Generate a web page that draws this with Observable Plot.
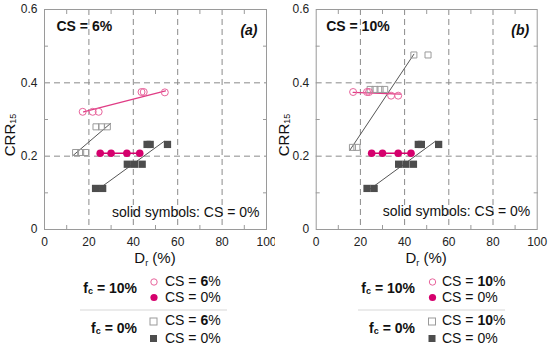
<!DOCTYPE html>
<html><head><meta charset="utf-8">
<script src="https://cdn.jsdelivr.net/npm/d3@7"></script>
<script src="https://cdn.jsdelivr.net/npm/@observablehq/plot@0.6"></script>
<style>
body{margin:0;background:#fff;font-family:"Liberation Sans",Arial,sans-serif;}
#wrap{position:relative;width:550px;height:348px;overflow:hidden;}
#wrap svg{position:absolute;top:0;}
</style></head><body>
<div id="wrap"></div>
<script>
// ---- axis ticks ----
const xTicks = [0, 20, 40, 60, 80, 100];
const yTicks = [0, 0.2, 0.4, 0.6];
const xGrid = [20, 40, 60, 80];
const yGrid = [0.2, 0.4];
const xMinor = [10, 30, 50, 70, 90];
const yMinor = [0.1, 0.3, 0.5];

// ---- panel (a): CS = 6% ----
const openCircA_x = [17.2, 21.7, 24.4, 43.7, 44.7, 54.2];
const openCircA_y = [0.321, 0.321, 0.321, 0.375, 0.375, 0.374];
const trendCircA_x = [17.6, 54.5];
const trendCircA_y = [0.321, 0.378];
const openSqA_x = [14.0, 16.3, 18.5, 23.2, 25.7, 28.3];
const openSqA_y = [0.210, 0.210, 0.210, 0.280, 0.280, 0.280];
const trendSqA_x = [12.7, 29.7];
const trendSqA_y = [0.201, 0.289];

// ---- panel (b): CS = 10% ----
const openCircB_x = [16.7, 23.0, 23.9, 33.9, 37.1];
const openCircB_y = [0.375, 0.375, 0.375, 0.365, 0.365];
const trendCircB_x = [16.7, 38.1];
const trendCircB_y = [0.374, 0.369];
const openSqB_x = [16.4, 18.4, 24.4, 26.6, 28.9, 31.0, 44.2, 50.6];
const openSqB_y = [0.224, 0.224, 0.382, 0.382, 0.382, 0.382, 0.476, 0.476];
const trendSqB_x = [15.2, 44.2];
const trendSqB_y = [0.216, 0.478];

// ---- shared CS = 0% series ----
const filledCirc_x = [25.1, 30.0, 37.1, 42.9];
const filledCirc_y = [0.208, 0.208, 0.208, 0.208];
const filledSq_x = [23.0, 26.2, 37.3, 40.6, 44.0, 46.2, 47.6, 55.4];
const filledSq_y = [0.112, 0.112, 0.178, 0.178, 0.178, 0.232, 0.232, 0.232];
const trendFilled_x = [24.5, 53.8];
const trendFilled_y = [0.111, 0.240];

const PINK_LIGHT = "#e8649c", PINK_LINE = "#e03c85", MAGENTA = "#d5006d";
const DARK = "#4d4d4d", SQ_STROKE = "#9a9a9a";
const FONT = '"Liberation Sans", Arial, sans-serif';

const pts = (xs, ys) => xs.map((x, i) => ({x, y: ys[i]}));

function panel(cfg) {
  const svg = Plot.plot({
    width: 275, height: 268,
    marginLeft: cfg.ml, marginRight: cfg.mr, marginTop: 9, marginBottom: 39,
    x: {domain: [0, 100]}, y: {domain: [0, 0.6]},
    style: {fontFamily: FONT, fontSize: "12px", color: "#222", background: "white", overflow: "visible"},
    marks: [
      Plot.gridX(xGrid, {stroke: "#8a8a8a", strokeOpacity: 1, strokeDasharray: "6,4"}),
      Plot.gridY(yGrid, {stroke: "#8a8a8a", strokeOpacity: 1, strokeDasharray: "6,4"}),
      Plot.frame({stroke: "#9a9a9a"}),
      Plot.axisX(xMinor, {tickSize: -4, tickFormat: () => "", stroke: "#9a9a9a", label: null}),
      Plot.axisX(xMinor, {anchor: "top", tickSize: -4, tickFormat: () => "", stroke: "#9a9a9a", label: null}),
      Plot.axisY(yMinor, {tickSize: -4, tickFormat: () => "", stroke: "#9a9a9a", label: null}),
      Plot.axisY(yMinor, {anchor: "right", tickSize: -4, tickFormat: () => "", stroke: "#9a9a9a", label: null}),
      Plot.axisX(xTicks, {tickSize: 0, tickPadding: 8, tickFormat: d => String(d), label: null}),
      Plot.axisY(yTicks, {tickSize: 0, tickPadding: 7, tickFormat: d => String(d), label: null}),
      Plot.line(pts(cfg.trendSq_x, cfg.trendSq_y), {x: "x", y: "y", stroke: "#555", strokeWidth: 1}),
      Plot.line(pts(trendFilled_x, trendFilled_y), {x: "x", y: "y", stroke: "#555", strokeWidth: 1}),
      Plot.line(pts(cfg.trendCirc_x, cfg.trendCirc_y), {x: "x", y: "y", stroke: PINK_LINE, strokeWidth: 1.3}),
      Plot.line(pts(filledCirc_x, filledCirc_y), {x: "x", y: "y", stroke: MAGENTA, strokeWidth: 1.3}),
      Plot.dot(pts(cfg.openSq_x, cfg.openSq_y), {x: "x", y: "y", symbol: "square", r: 3.4, stroke: SQ_STROKE, fill: "none", strokeWidth: 1}),
      Plot.dot(pts(filledSq_x, filledSq_y), {x: "x", y: "y", symbol: "square", r: 4.1, fill: DARK, stroke: "none"}),
      Plot.dot(pts(cfg.openCirc_x, cfg.openCirc_y), {x: "x", y: "y", r: 3.5, stroke: PINK_LIGHT, fill: "none", strokeWidth: 1}),
      Plot.dot(pts(filledCirc_x, filledCirc_y), {x: "x", y: "y", r: 3.8, fill: MAGENTA, stroke: "none"}),
      Plot.text([cfg.title], {text: d => d, frameAnchor: "top-left", dx: cfg.titleDx, dy: 17, textAnchor: "start", lineAnchor: "middle", fontWeight: "bold", fontSize: 14, fill: "#111"}),
      Plot.text([cfg.tag], {text: d => d, frameAnchor: "top-right", dx: cfg.tagDx, dy: 21, textAnchor: "end", lineAnchor: "middle", fontWeight: "bold", fontStyle: "italic", fontSize: 14, fill: "#111"}),
      Plot.text(["solid symbols: CS = 0%"], {text: d => d, frameAnchor: "bottom-right", dx: cfg.noteDx, dy: cfg.noteDy, textAnchor: "end", lineAnchor: "middle", fontSize: 14, fill: "#111"})
    ]
  });
  const s = d3.select(svg);
  const xr = cfg.ml, xc = (cfg.ml + 275 - cfg.mr) / 2;
  // y label CRR15
  const yl = s.append("text").attr("transform", `translate(${cfg.ylx},135) rotate(-90)`)
    .attr("text-anchor", "middle").attr("dominant-baseline", "middle")
    .attr("font-family", FONT).attr("font-size", 15).attr("fill", "#111");
  yl.append("tspan").text("CRR");
  yl.append("tspan").attr("font-size", 9).attr("dy", 3).text("15");
  // x label Dr (%)
  const xl = s.append("text").attr("x", xc).attr("y", 263)
    .attr("text-anchor", "middle")
    .attr("font-family", FONT).attr("font-size", 15).attr("fill", "#111");
  xl.append("tspan").text("D");
  xl.append("tspan").attr("font-size", 9).attr("dy", 3).text("r");
  xl.append("tspan").attr("dy", -3).text(" (%)");
  svg.style.left = cfg.left + "px";
  return svg;
}

const wrap = document.getElementById("wrap");
wrap.appendChild(panel({
  left: 0, ml: 44, mr: 9, ylx: 11, title: "CS = 6%", tag: "(a)", titleDx: 12, tagDx: -9, noteDx: -7, noteDy: -17,
  openCirc_x: openCircA_x, openCirc_y: openCircA_y, trendCirc_x: trendCircA_x, trendCirc_y: trendCircA_y,
  openSq_x: openSqA_x, openSq_y: openSqA_y, trendSq_x: trendSqA_x, trendSq_y: trendSqA_y
}));
wrap.appendChild(panel({
  left: 275, ml: 40.7, mr: 13.3, ylx: 10, title: "CS = 10%", tag: "(b)", titleDx: 10, tagDx: -8, noteDx: -7, noteDy: -18,
  openCirc_x: openCircB_x, openCirc_y: openCircB_y, trendCirc_x: trendCircB_x, trendCirc_y: trendCircB_y,
  openSq_x: openSqB_x, openSq_y: openSqB_y, trendSq_x: trendSqB_x, trendSq_y: trendSqB_y
}));

// ---- legends ----
const legendCS = ["6", "10"];
const leg = d3.create("svg").attr("width", 550).attr("height", 80)
  .style("top", "268px").style("left", "0px").attr("font-family", FONT);
const legCfg = [
  {right: 137, sym: 154, txt: 165, sep: [80, 227], cs: legendCS[0]},
  {right: 415, sym: 432.5, txt: 442, sep: [358, 505], cs: legendCS[1]}
];
legCfg.forEach(c => {
  const g = leg.append("g");
  const fc = (label, y) => {
    const t = g.append("text").attr("x", c.right).attr("y", y).attr("text-anchor", "end")
      .attr("dominant-baseline", "middle").attr("font-size", 14).attr("font-weight", "bold").attr("fill", "#111");
    t.append("tspan").text("f");
    t.append("tspan").attr("font-size", 9).attr("dy", 3).text("c");
    t.append("tspan").attr("dy", -3).text(" = " + label);
  };
  const cs = (val, bold, y) => {
    const t = g.append("text").attr("x", c.txt).attr("y", y).attr("dominant-baseline", "middle")
      .attr("font-size", 14).attr("fill", "#111");
    t.append("tspan").text("CS = ");
    t.append("tspan").attr("font-weight", bold ? "bold" : "normal").text(val);
    t.append("tspan").text("%");
  };
  fc("10%", 21);
  fc("0%", 61);
  g.append("circle").attr("cx", c.sym).attr("cy", 14).attr("r", 3.2).attr("fill", "none").attr("stroke", PINK_LIGHT);
  g.append("circle").attr("cx", c.sym).attr("cy", 29.5).attr("r", 3.6).attr("fill", MAGENTA);
  g.append("rect").attr("x", c.sym - 4).attr("y", 53.5 - 3.5).attr("width", 7).attr("height", 7).attr("fill", "none").attr("stroke", SQ_STROKE);
  g.append("rect").attr("x", c.sym - 4).attr("y", 70.5 - 3.5).attr("width", 7).attr("height", 7).attr("fill", DARK);
  cs(c.cs, true, 14);
  cs("0", false, 30);
  cs(c.cs, true, 53);
  cs("0", false, 71);
  g.append("line").attr("x1", c.sep[0]).attr("x2", c.sep[1]).attr("y1", 42).attr("y2", 42)
    .attr("stroke", "#d8d8d8").attr("stroke-width", 1.2);
});
wrap.appendChild(leg.node());
</script>
</body></html>
